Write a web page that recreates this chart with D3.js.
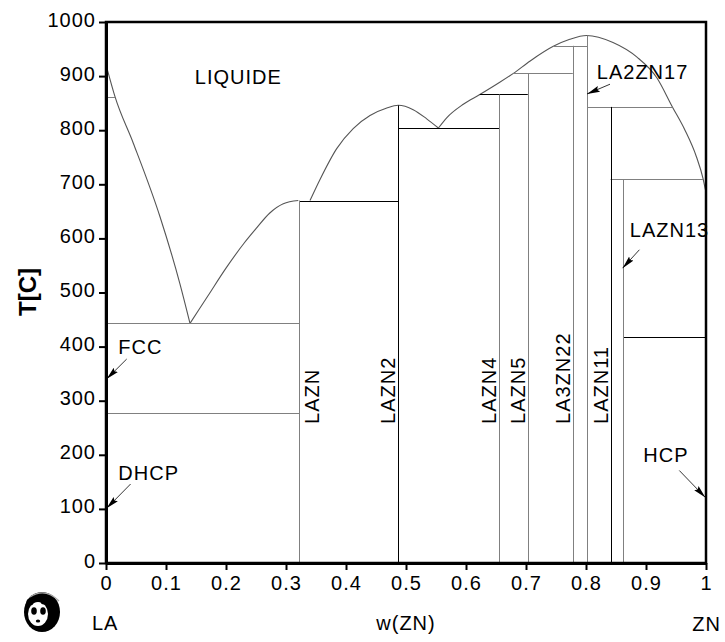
<!DOCTYPE html>
<html><head><meta charset="utf-8">
<script src="https://cdn.jsdelivr.net/npm/d3@7"></script>
<style>
html,body{margin:0;padding:0;background:#fff;}
svg text{font-family:"Liberation Sans",Arial,sans-serif;}
</style></head>
<body><svg id="c" width="725" height="642"></svg>
<script>
// ---------- data ----------
const xTickValues = [0,0.1,0.2,0.3,0.4,0.5,0.6,0.7,0.8,0.9,1];
const xTickLabels = ["0","0.1","0.2","0.3","0.4","0.5","0.6","0.7","0.8","0.9","1"];
const yTickValues = [0,100,200,300,400,500,600,700,800,900,1000];
const yTickLabels = ["0","100","200","300","400","500","600","700","800","900","1000"];

// liquidus branches [w(ZN), T]
const liqLa    = [[0.002,913],[0.015,862],[0.0455,776],[0.09,640],[0.123,517],[0.14,443]];
const liqLaZn  = [[0.14,443],[0.17,494],[0.2,545],[0.23,591],[0.25,618],[0.273,647],[0.2955,664],[0.3205,670]];
const liqLaZn2 = [[0.34,670],[0.3567,709],[0.3845,766],[0.412,803],[0.44,827],[0.468,841],[0.487,846],[0.512,838],[0.5345,821],[0.554,804]];
const liqZnRich= [[0.554,804],[0.5678,823],[0.5955,848],[0.623,866],[0.651,885],[0.679,905],[0.707,928],[0.7455,955],[0.773,968],[0.801,975],[0.845,962],[0.885,935],[0.918,897],[0.944,843],[0.965,800],[0.984,751],[0.995,711],[0.999,690]];

// compounds: name, composition, upper temperature of line
const compNames = ["LAZN","LAZN2","LAZN4","LAZN5","LA3ZN22","LA2ZN17","LAZN11","LAZN13"];
const compW     = [0.3217,0.487,0.655,0.703,0.778,0.8017,0.841,0.862];
const compTop   = [670,846,866,905,956,975,843,709];
const compDark  = [false,true,false,false,false,false,true,false];
const compLabeled = [true,true,true,true,true,false,true,false];
const compLabelSide = [1,-1,-1,-1,-1,0,-1,0];

// invariant horizontal lines: [w1, w2, T]
const invDark = [[0.3217,0.487,670],[0.487,0.655,804],[0.623,0.703,866],[0.862,1.0,418]];
const invGray = [[0,0.015,862],[0,0.3217,443],[0,0.3217,278],[0.679,0.778,905],[0.7455,0.8017,956],[0.8017,0.944,843],[0.841,0.995,709]];

// annotations: text, text anchor [w,T], arrow from [w,T], arrow tip [w,T]
const annText = ["LA2ZN17","LAZN13","FCC","DHCP","HCP"];
const annPos  = [[0.818,895],[0.873,603],[0.0205,386],[0.0205,153],[0.8955,187]];
const annFrom = [[0.84,885],[0.889,579],[0.0345,377],[0.041,146],[0.9555,171]];
const annTip  = [[0.8017,867],[0.861,545],[0.001,340],[0.001,101],[0.999,121]];

// ---------- drawing ----------
const svg = d3.select("#c");
const L=106,R=706,T=22,B=563;
const x = d3.scaleLinear().domain([0,1]).range([L,R]);
const y = d3.scaleLinear().domain([0,1000]).range([B,T]);
const FS = "20px";
const LS = "1px";
const gray = "#808080";

const plot = svg.append("g");
const line = d3.line().x(d=>x(d[0])).y(d=>y(d[1])).curve(d3.curveMonotoneX);
[liqLa,liqLaZn,liqLaZn2,liqZnRich].forEach(b=>{
  plot.append("path").attr("d",line(b)).attr("fill","none").attr("stroke","#555").attr("stroke-width",1.1);
});

const crisp = v => Math.round(v)+0.5;
invGray.forEach(s=>{
  plot.append("line").attr("x1",x(s[0])).attr("x2",x(s[1])).attr("y1",crisp(y(s[2]))).attr("y2",crisp(y(s[2])))
    .attr("stroke",gray).attr("stroke-width",1);
});
invDark.forEach(s=>{
  plot.append("line").attr("x1",x(s[0])).attr("x2",x(s[1])).attr("y1",crisp(y(s[2]))).attr("y2",crisp(y(s[2])))
    .attr("stroke","#000").attr("stroke-width",1);
});
compW.forEach((w,i)=>{
  plot.append("line").attr("x1",crisp(x(w))).attr("x2",crisp(x(w))).attr("y1",y(0)).attr("y2",y(compTop[i]))
    .attr("stroke",compDark[i]?"#000":gray).attr("stroke-width",1);
  if(compLabeled[i]){
    const bx = x(w) + (compLabelSide[i]>0 ? 20 : -3);
    const by = y(257);
    plot.append("text").attr("transform",`translate(${bx},${by}) rotate(-90)`)
      .attr("font-size",FS).attr("letter-spacing",LS).text(compNames[i]);
  }
});

// LIQUIDE label
plot.append("text").attr("x",x(0.148)).attr("y",y(885)).attr("font-size",FS).attr("letter-spacing",LS).text("LIQUIDE");

// arrow marker
svg.append("defs").append("marker").attr("id","ah").attr("markerUnits","userSpaceOnUse")
  .attr("markerWidth",14).attr("markerHeight",10).attr("refX",13).attr("refY",5).attr("orient","auto")
  .append("path").attr("d","M0,2 L13,5 L0,8 L2,5 Z").attr("fill","#000");

annText.forEach((t,i)=>{
  plot.append("text").attr("x",x(annPos[i][0])).attr("y",y(annPos[i][1])).attr("font-size",FS).attr("letter-spacing",LS).text(t);
  plot.append("line").attr("x1",x(annFrom[i][0])).attr("y1",y(annFrom[i][1])).attr("x2",x(annTip[i][0])).attr("y2",y(annTip[i][1]))
    .attr("stroke","#000").attr("stroke-width",0.8).attr("marker-end","url(#ah)");
});

// frame
svg.append("rect").attr("x",L).attr("y",T).attr("width",R-L).attr("height",B-T)
  .attr("fill","none").attr("stroke","#000").attr("stroke-width",2.5);

// axes
const xa = svg.append("g").attr("transform",`translate(0,${B})`)
  .call(d3.axisBottom(x).tickValues(xTickValues).tickFormat((d,i)=>xTickLabels[i]).tickSize(7).tickPadding(6).tickSizeOuter(0));
const ya = svg.append("g").attr("transform",`translate(${L},0)`)
  .call(d3.axisLeft(y).tickValues(yTickValues).tickFormat((d,i)=>yTickLabels[i]).tickSize(7).tickPadding(3).tickSizeOuter(0));
[xa,ya].forEach(g=>{
  g.select(".domain").attr("stroke-width",3);
  g.selectAll(".tick line").attr("stroke-width",2);
  g.selectAll(".tick text").attr("font-size",FS).attr("letter-spacing",LS).attr("font-family","'Liberation Sans',Arial,sans-serif").attr("fill","#000");
});
ya.selectAll(".tick text").attr("dy","0.2em");

// axis titles
svg.append("text").attr("transform",`translate(36,292) rotate(-90)`).attr("text-anchor","middle")
  .attr("font-size","24px").attr("font-weight","bold").text("T[C]");
svg.append("text").attr("x",92).attr("y",630).attr("font-size",FS).attr("letter-spacing",LS).text("LA");
svg.append("text").attr("x",406).attr("y",630).attr("text-anchor","middle").attr("font-size",FS).attr("letter-spacing",LS).text("w(ZN)");
svg.append("text").attr("x",721).attr("y",631).attr("text-anchor","end").attr("font-size",FS).attr("letter-spacing",LS).text("ZN");

// panda logo
const lg = svg.append("g");
lg.append("ellipse").attr("cx",42).attr("cy",612).attr("rx",18).attr("ry",20).attr("fill","#000");
lg.append("path").attr("d","M30,597 Q45,587 59,601").attr("fill","none").attr("stroke","#aaa").attr("stroke-width",1.3);
lg.append("ellipse").attr("cx",38).attr("cy",614).attr("rx",10).attr("ry",12).attr("fill","#fff");
lg.append("circle").attr("cx",30).attr("cy",602).attr("r",3.5).attr("fill","#000");
lg.append("circle").attr("cx",44).attr("cy",601).attr("r",3.5).attr("fill","#000");
lg.append("ellipse").attr("cx",34).attr("cy",611).attr("rx",2.8).attr("ry",3.8).attr("fill","#000");
lg.append("ellipse").attr("cx",43).attr("cy",611).attr("rx",2.8).attr("ry",3.8).attr("fill","#000");
lg.append("ellipse").attr("cx",38).attr("cy",621).attr("rx",2.2).attr("ry",1.6).attr("fill","#000");
</script></body></html>
